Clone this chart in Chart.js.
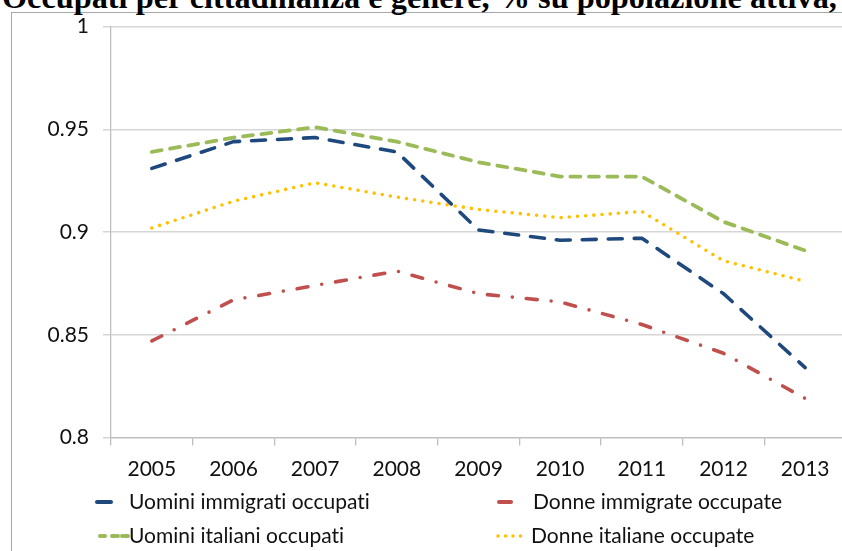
<!DOCTYPE html>
<html>
<head>
<meta charset="utf-8">
<script src="https://cdn.jsdelivr.net/npm/chart.js@4.4.1/dist/chart.umd.min.js"></script>
<style>
  html, body { margin:0; padding:0; width:842px; height:551px; overflow:hidden; background:#fff; }
  #title { position:absolute; left:2px; top:-18px; white-space:nowrap; font-family:"Liberation Serif","Times New Roman",serif; font-weight:bold; font-size:32.3px; color:#000; line-height:31px; }
  #frame { position:absolute; left:11px; top:12px; width:900px; height:600px; border:1px solid #a8a8a8; box-sizing:border-box; }
  #wrap { position:absolute; left:0; top:0; width:880px; height:551px; }
  .leg { position:absolute; font-family:Lato,"Open Sans",sans-serif; font-size:21px; color:#111; white-space:nowrap; line-height:22px; font-variant-ligatures:none; font-feature-settings:"liga" 0; }
  .mk { position:absolute; }
</style>
</head>
<body>
<div id="frame"></div>
<div id="title">Occupati per cittadinanza e genere, % su popolazione attiva, 2005-2013</div>
<div id="wrap"><canvas id="c" width="880" height="551"></canvas></div>

<svg class="mk" style="left:90px;top:490px" width="45" height="55">
  <line x1="7" y1="12" x2="21" y2="12" stroke="#1F497D" stroke-width="4" stroke-linecap="round"/>
  <line x1="10" y1="46" x2="15" y2="46" stroke="#9BBB59" stroke-width="4" stroke-linecap="round"/>
  <line x1="22" y1="46" x2="28" y2="46" stroke="#9BBB59" stroke-width="4" stroke-linecap="round"/>
  <line x1="32" y1="46" x2="38" y2="46" stroke="#9BBB59" stroke-width="4" stroke-linecap="round"/>
</svg>
<svg class="mk" style="left:490px;top:490px" width="45" height="55">
  <line x1="9" y1="12" x2="21" y2="12" stroke="#C0504D" stroke-width="4" stroke-linecap="round"/>
  <line x1="8" y1="46" x2="38" y2="46" stroke="#FFC000" stroke-width="3.5" stroke-linecap="round" stroke-dasharray="0 7.5"/>
</svg>
<div class="leg" style="left:129px;top:490px">Uomini immigrati occupati</div>
<div class="leg" style="left:533px;top:490px">Donne immigrate occupate</div>
<div class="leg" style="left:129px;top:524px">Uomini italiani occupati</div>
<div class="leg" style="left:531px;top:524px">Donne italiane occupate</div>

<script>
const years = ['2005','2006','2007','2008','2009','2010','2011','2012','2013'];
const uominiImmigrati = [0.931, 0.944, 0.946, 0.939, 0.901, 0.896, 0.897, 0.870, 0.834];
const donneImmigrate  = [0.847, 0.867, 0.874, 0.881, 0.870, 0.866, 0.855, 0.841, 0.819];
const uominiItaliani  = [0.939, 0.946, 0.951, 0.944, 0.934, 0.927, 0.927, 0.905, 0.891];
const donneItaliane   = [0.902, 0.915, 0.924, 0.917, 0.911, 0.907, 0.910, 0.886, 0.876];
const yMin = 0.8, yMax = 1, yStep = 0.05;

const font = { family: 'Lato, "Open Sans", sans-serif', size: 21 };

new Chart(document.getElementById('c'), {
  type: 'line',
  data: {
    labels: years,
    datasets: [
      { label: 'Uomini immigrati occupati', data: uominiImmigrati, borderColor: '#1F497D', borderWidth: 3.6, borderDash: [14, 12], borderCapStyle: 'round', borderJoinStyle: 'round' },
      { label: 'Donne immigrate occupate', data: donneImmigrate, borderColor: '#C0504D', borderWidth: 3.6, borderDash: [11, 14, 0, 14], borderCapStyle: 'round', borderJoinStyle: 'round' },
      { label: 'Uomini italiani occupati', data: uominiItaliani, borderColor: '#9BBB59', borderWidth: 3.8, borderDash: [10, 8.5], borderCapStyle: 'round', borderJoinStyle: 'round' },
      { label: 'Donne italiane occupate', data: donneItaliane, borderColor: '#FFC000', borderWidth: 3.6, borderDash: [0, 8.2], borderCapStyle: 'round', borderJoinStyle: 'round' }
    ]
  },
  options: {
    responsive: false,
    animation: false,
    events: [],
    layout: { padding: { top: 25, right: 34, left: 0, bottom: 0 } },
    elements: { point: { radius: 0 }, line: { tension: 0 } },
    plugins: { legend: { display: false }, tooltip: { enabled: false }, title: { display: false } },
    scales: {
      x: {
        offset: true,
        grid: { offset: true, drawOnChartArea: false, drawTicks: true, tickLength: 8, color: '#bfbfbf', lineWidth: 1.3 },
        border: { display: true, color: '#bfbfbf', width: 1.3 },
        ticks: { font: font, color: '#111', padding: 11, maxRotation: 0, autoSkip: false },
        afterFit: (s) => { s.height = 113.5; }
      },
      y: {
        min: yMin, max: yMax,
        grid: { color: '#d6d6d6', lineWidth: 1.5, drawTicks: true, tickLength: 8 },
        border: { display: true, color: '#bfbfbf', width: 1.3 },
        ticks: { stepSize: yStep, font: font, color: '#111', padding: 14,
                 callback: (v) => String(parseFloat(Number(v).toFixed(2))) },
        afterFit: (s) => { s.width = 111; }
      }
    }
  }
});
</script>
</body>
</html>
